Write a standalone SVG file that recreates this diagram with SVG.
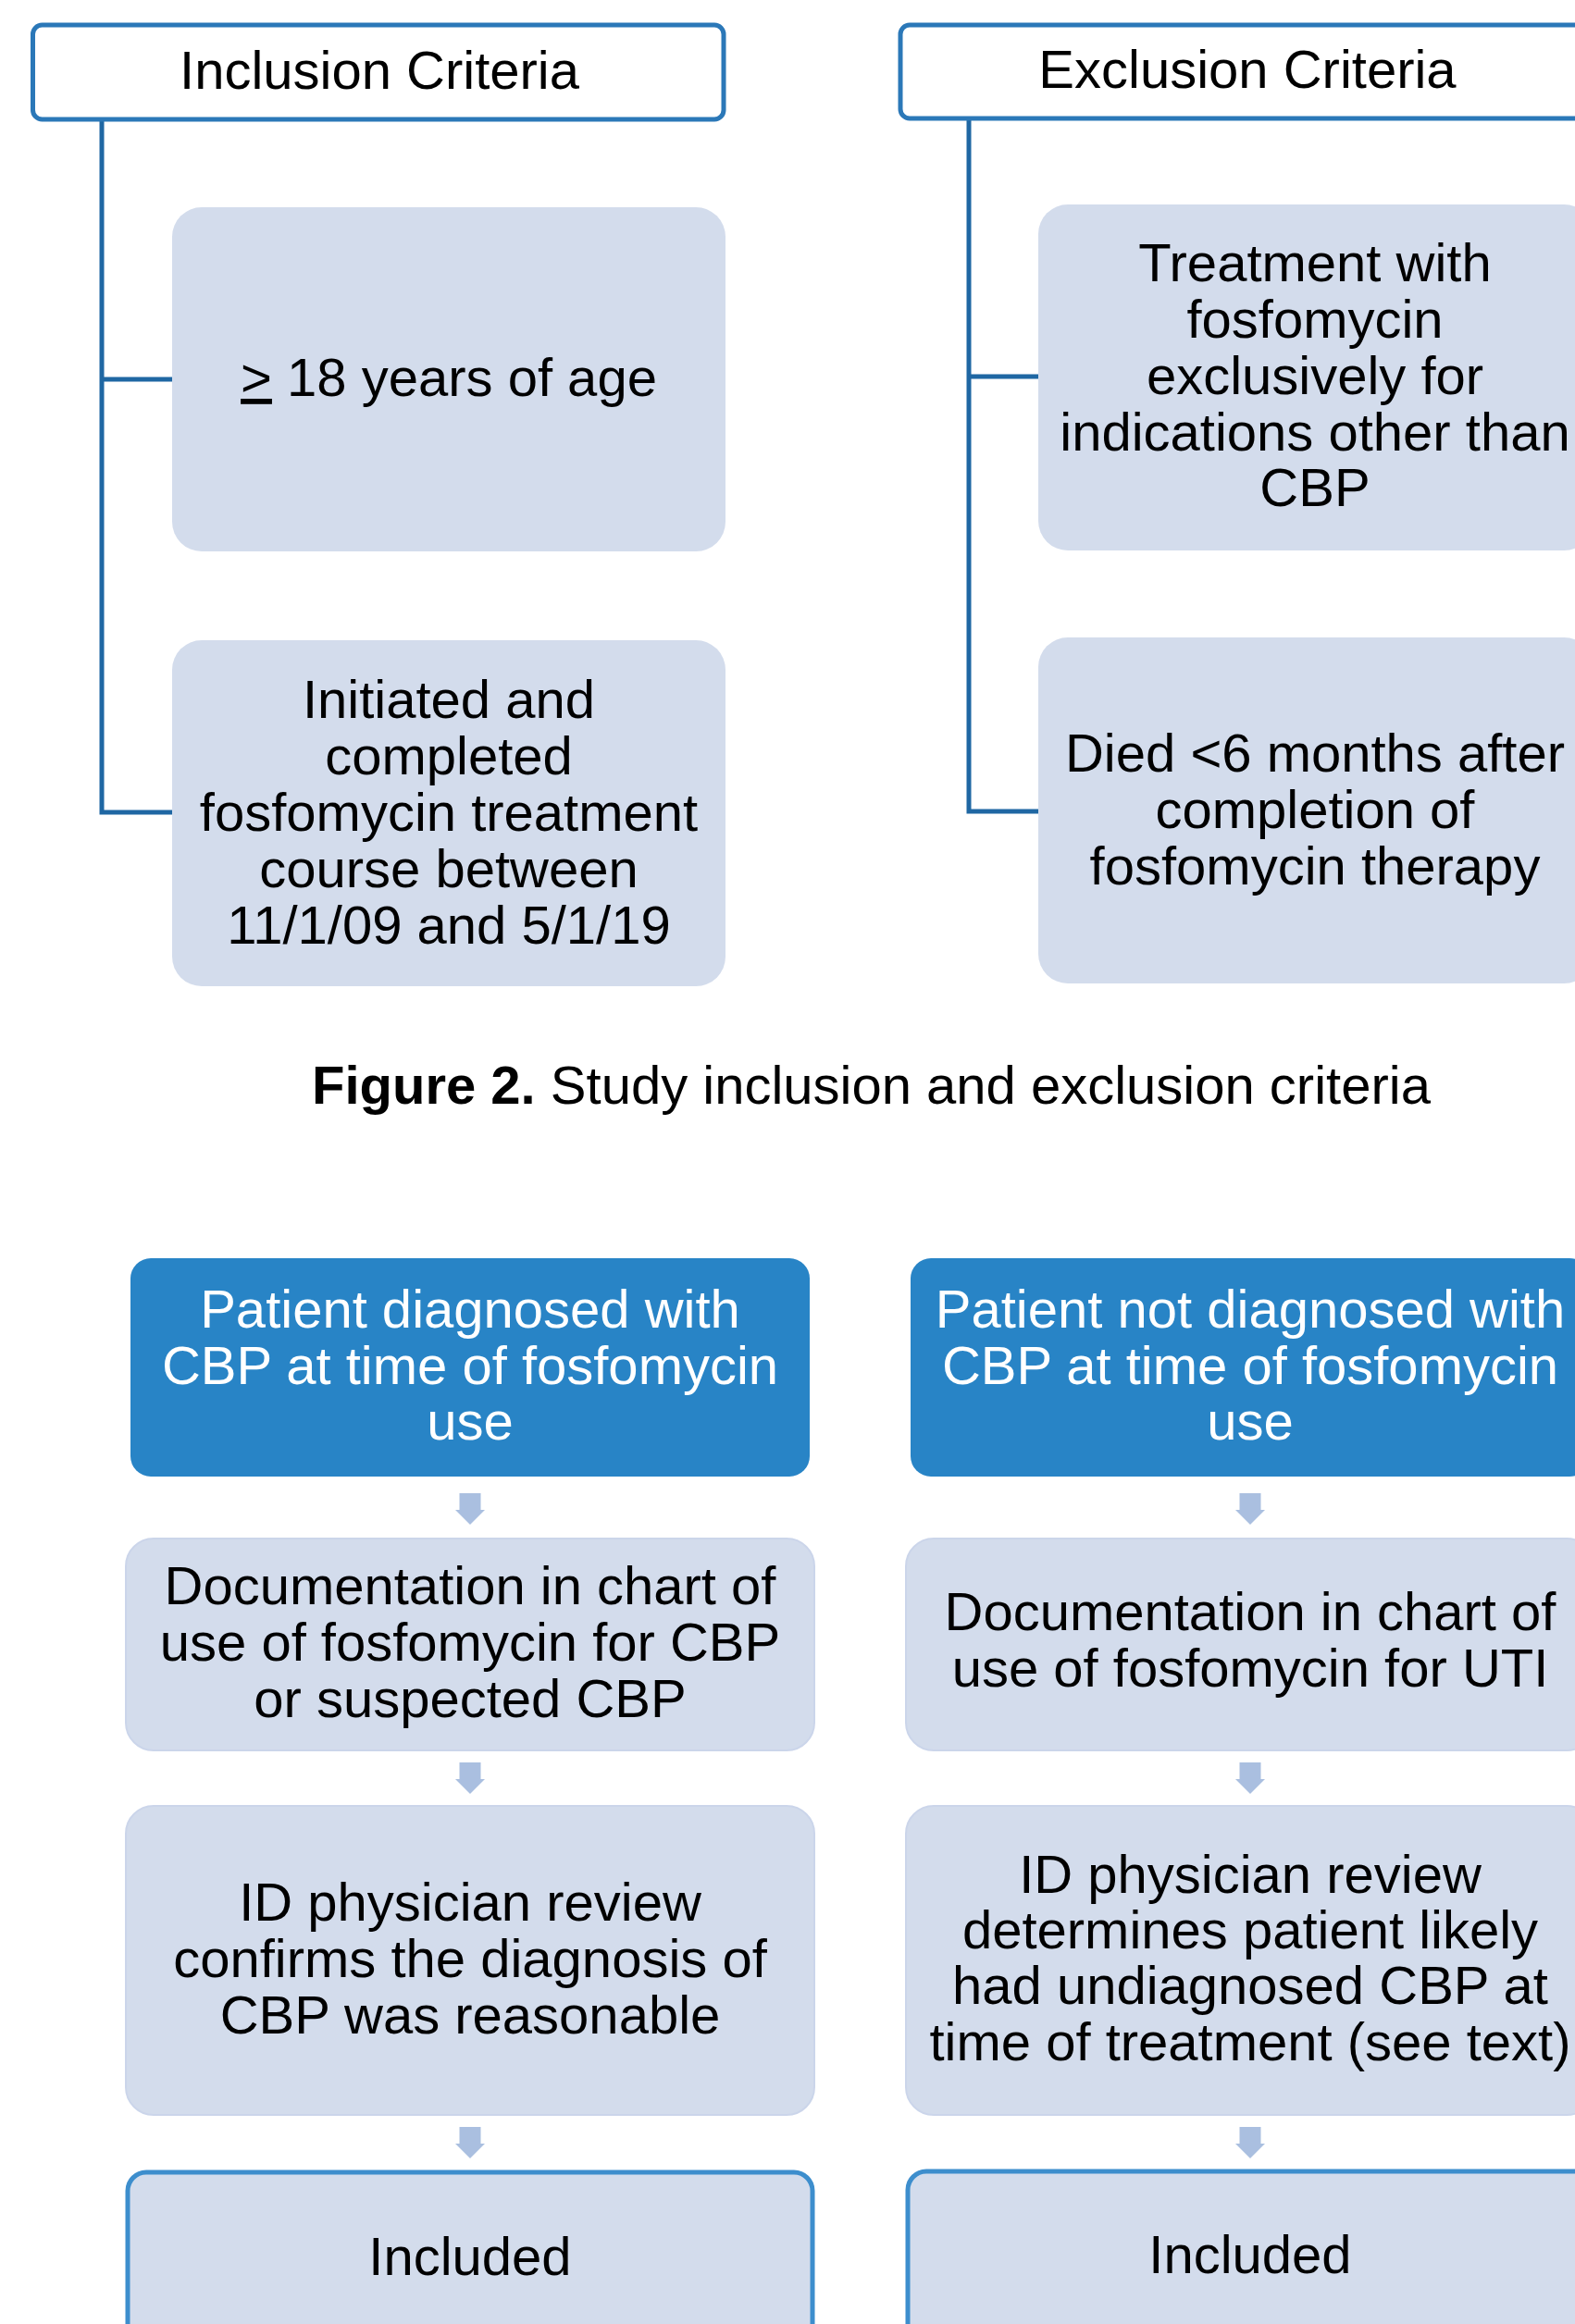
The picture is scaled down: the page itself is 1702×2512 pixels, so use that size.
<svg xmlns="http://www.w3.org/2000/svg" xmlns:xlink="http://www.w3.org/1999/xlink" width="1702" height="2512" viewBox="0 0 1702 2512">
<style>
  text { font-family: "Liberation Sans", Arial, sans-serif; font-size: 58px; fill: #000; text-anchor: middle; }
  .hdr { fill: #ffffff; stroke: #2B78B8; stroke-width: 5; }
  .crit { fill: #D3DCEC; }
  .dark { fill: #2884C6; }
  .dark-t { fill: #ffffff; }
  .step { fill: #D3DCEC; stroke: #CBD5EA; stroke-width: 2; }
  .final { fill: #D3DCEC; stroke: #3D8ECD; stroke-width: 5; }
  .conn { fill: none; stroke: #1F67A3; stroke-width: 5; }
  .arrow { fill: #AABFE0; }
  .cap { text-anchor: start; }
</style>
<defs>
  <path id="dnArrow" d="M-11.5,0 H11.5 V18 H16 L0,34 L-16,18 H-11.5 Z"/>
</defs>
<rect width="1702" height="2512" fill="#ffffff"/>

<g id="connectors">
  <path class="conn" d="M110,129 V878 H186 M110,410 H186"/>
  <path class="conn" d="M1047,128 V877 H1122 M1047,407 H1122"/>
  <use href="#dnArrow" class="arrow" transform="translate(508,1614)"/>
  <use href="#dnArrow" class="arrow" transform="translate(1351,1614)"/>
  <use href="#dnArrow" class="arrow" transform="translate(508,1905)"/>
  <use href="#dnArrow" class="arrow" transform="translate(1351,1905)"/>
  <use href="#dnArrow" class="arrow" transform="translate(508,2299)"/>
  <use href="#dnArrow" class="arrow" transform="translate(1351,2299)"/>
</g>

<g id="inclusion-header">
  <rect class="hdr" x="35.5" y="27" width="746.5" height="102" rx="10"/>
  <text x="410" y="96">Inclusion Criteria</text>
</g>
<g id="exclusion-header">
  <rect class="hdr" x="973" y="27" width="760" height="101" rx="10"/>
  <text x="1348" y="95">Exclusion Criteria</text>
</g>

<g id="inc-age">
  <rect class="crit" x="186" y="224" width="598" height="372" rx="32"/>
  <text x="485" y="428"><tspan text-decoration="underline">&gt;</tspan> 18 years of age</text>
</g>
<g id="inc-course">
  <rect class="crit" x="186" y="692" width="598" height="374" rx="32"/>
  <text x="485" y="776">Initiated and</text>
  <text x="485" y="837">completed</text>
  <text x="485" y="898">fosfomycin treatment</text>
  <text x="485" y="959">course between</text>
  <text x="485" y="1020">11/1/09 and 5/1/19</text>
</g>
<g id="exc-other">
  <rect class="crit" x="1122" y="221" width="600" height="374" rx="32"/>
  <text x="1421" y="304">Treatment with</text>
  <text x="1421" y="365">fosfomycin</text>
  <text x="1421" y="426">exclusively for</text>
  <text x="1421" y="487">indications other than</text>
  <text x="1421" y="547">CBP</text>
</g>
<g id="exc-died">
  <rect class="crit" x="1122" y="689" width="600" height="374" rx="32"/>
  <text x="1421" y="834">Died &lt;6 months after</text>
  <text x="1421" y="895">completion of</text>
  <text x="1421" y="956">fosfomycin therapy</text>
</g>

<g id="caption">
  <text class="cap" x="337" y="1193"><tspan font-weight="bold">Figure 2.</tspan> Study inclusion and exclusion criteria</text>
</g>

<g id="left-start">
  <rect class="dark" x="141" y="1360" width="734" height="236" rx="22"/>
  <text class="dark-t" x="508" y="1435">Patient diagnosed with</text>
  <text class="dark-t" x="508" y="1496">CBP at time of fosfomycin</text>
  <text class="dark-t" x="508" y="1556">use</text>
</g>
<g id="right-start">
  <rect class="dark" x="984" y="1360" width="734" height="236" rx="22"/>
  <text class="dark-t" x="1351" y="1435">Patient not diagnosed with</text>
  <text class="dark-t" x="1351" y="1496">CBP at time of fosfomycin</text>
  <text class="dark-t" x="1351" y="1556">use</text>
</g>
<g id="left-doc">
  <rect class="step" x="136" y="1663" width="744" height="229" rx="30"/>
  <text x="508" y="1734">Documentation in chart of</text>
  <text x="508" y="1795">use of fosfomycin for CBP</text>
  <text x="508" y="1856">or suspected CBP</text>
</g>
<g id="right-doc">
  <rect class="step" x="979" y="1663" width="744" height="229" rx="30"/>
  <text x="1351" y="1762">Documentation in chart of</text>
  <text x="1351" y="1823">use of fosfomycin for UTI</text>
</g>
<g id="left-review">
  <rect class="step" x="136" y="1952" width="744" height="334" rx="30"/>
  <text x="508" y="2076">ID physician review</text>
  <text x="508" y="2137">confirms the diagnosis of</text>
  <text x="508" y="2198">CBP was reasonable</text>
</g>
<g id="right-review">
  <rect class="step" x="979" y="1952" width="744" height="334" rx="30"/>
  <text x="1351" y="2046">ID physician review</text>
  <text x="1351" y="2106">determines patient likely</text>
  <text x="1351" y="2166">had undiagnosed CBP at</text>
  <text x="1351" y="2227">time of treatment (see text)</text>
</g>
<g id="left-included">
  <rect class="final" x="138" y="2348" width="740" height="220" rx="20"/>
  <text x="508" y="2459">Included</text>
</g>
<g id="right-included">
  <rect class="final" x="981" y="2347" width="740" height="220" rx="20"/>
  <text x="1351" y="2457">Included</text>
</g>
</svg>
